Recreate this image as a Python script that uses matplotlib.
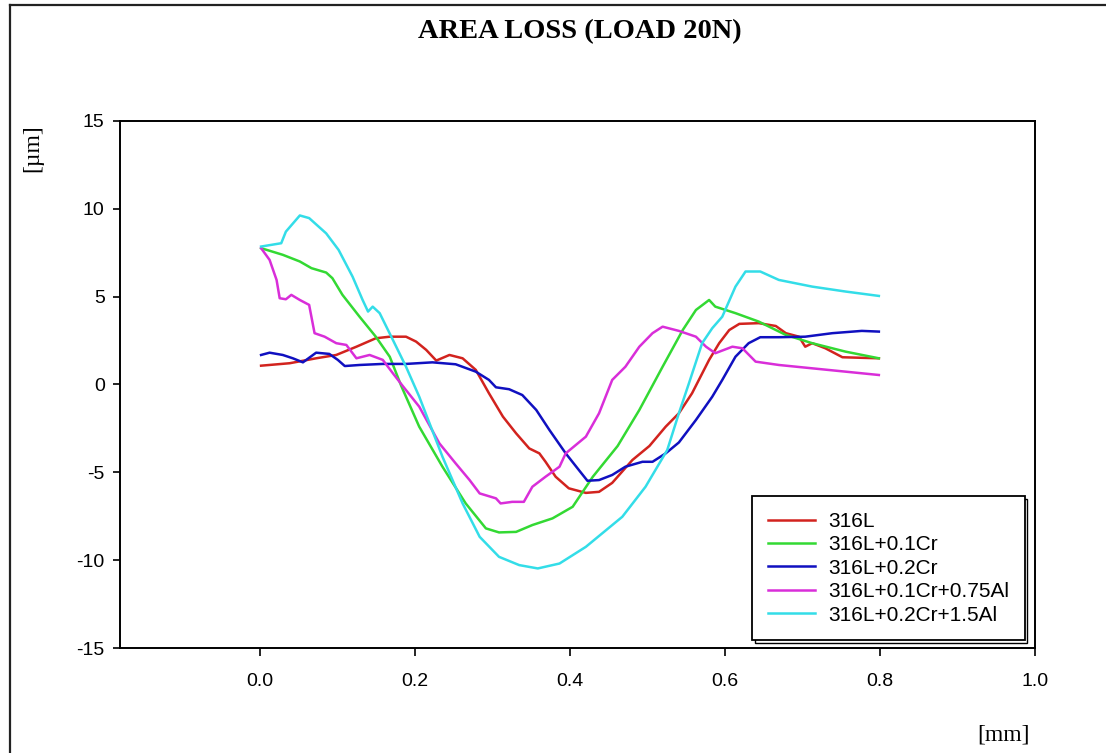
import matplotlib
matplotlib.use("Agg")
import matplotlib.pyplot as plt
from matplotlib.lines import Line2D

plt.rcParams['font.family'] = ['Liberation Sans', 'DejaVu Sans']
plt.rcParams['axes.unicode_minus'] = False

# ---- data (x in mm, y in um) ----
x_316l = [0.002, 0.039, 0.073, 0.099, 0.125, 0.150, 0.168, 0.189, 0.202, 0.215, 0.228,
          0.245, 0.262, 0.279, 0.296, 0.314, 0.331, 0.348, 0.361, 0.369, 0.382, 0.399,
          0.421, 0.438, 0.455, 0.481, 0.503, 0.524, 0.541, 0.558, 0.580, 0.593, 0.606,
          0.619, 0.644, 0.666, 0.679, 0.696, 0.704, 0.713, 0.730, 0.752, 0.799]
y_316l = [1.07, 1.21, 1.49, 1.68, 2.15, 2.63, 2.72, 2.72, 2.44, 1.97, 1.36,
          1.68, 1.49, 0.83, -0.50, -1.83, -2.78, -3.64, -3.92, -4.40, -5.25, -5.91,
          -6.17, -6.11, -5.60, -4.30, -3.50, -2.40, -1.64, -0.50, 1.40, 2.35, 3.10,
          3.45, 3.49, 3.33, 2.92, 2.72, 2.15, 2.35, 2.06, 1.55, 1.49]

x_01cr = [0.002, 0.030, 0.052, 0.067, 0.086, 0.094, 0.107, 0.129, 0.150, 0.168, 0.183,
          0.206, 0.236, 0.266, 0.292, 0.309, 0.331, 0.352, 0.378, 0.404, 0.430, 0.462,
          0.490, 0.520, 0.546, 0.563, 0.580, 0.588, 0.614, 0.644, 0.679, 0.713, 0.756, 0.799]
y_01cr = [7.76, 7.38, 7.00, 6.62, 6.37, 6.05, 5.10, 3.86, 2.72, 1.58, -0.10,
          -2.40, -4.68, -6.77, -8.19, -8.42, -8.39, -8.00, -7.62, -6.96, -5.25, -3.50,
          -1.45, 1.01, 3.10, 4.24, 4.81, 4.43, 4.06, 3.58, 2.82, 2.35, 1.87, 1.49]

x_02cr = [0.002, 0.013, 0.030, 0.043, 0.056, 0.073, 0.090, 0.101, 0.110, 0.129, 0.159,
          0.189, 0.223, 0.253, 0.279, 0.296, 0.305, 0.322, 0.339, 0.357, 0.374, 0.395,
          0.412, 0.423, 0.438, 0.455, 0.472, 0.494, 0.507, 0.524, 0.541, 0.563, 0.584,
          0.597, 0.614, 0.631, 0.646, 0.670, 0.704, 0.739, 0.777, 0.799]
y_02cr = [1.68, 1.81, 1.68, 1.49, 1.26, 1.81, 1.74, 1.40, 1.05, 1.11, 1.17,
          1.17, 1.26, 1.15, 0.73, 0.26, -0.16, -0.27, -0.60, -1.45, -2.59, -3.92,
          -4.87, -5.48, -5.44, -5.15, -4.68, -4.40, -4.40, -3.92, -3.30, -2.02, -0.70,
          0.26, 1.58, 2.35, 2.69, 2.69, 2.72, 2.92, 3.05, 3.01]

x_01cr075al = [0.002, 0.013, 0.022, 0.026, 0.034, 0.041, 0.052, 0.064, 0.071, 0.084, 0.099,
               0.112, 0.125, 0.142, 0.159, 0.172, 0.185, 0.206, 0.232, 0.253, 0.271, 0.284,
               0.305, 0.311, 0.326, 0.341, 0.352, 0.369, 0.387, 0.395, 0.421, 0.438, 0.455,
               0.472, 0.490, 0.507, 0.520, 0.541, 0.563, 0.576, 0.588, 0.610, 0.623, 0.640,
               0.670, 0.713, 0.756, 0.799]
y_01cr075al = [7.76, 7.09, 5.95, 4.91, 4.85, 5.10, 4.81, 4.53, 2.92, 2.72, 2.35,
               2.25, 1.49, 1.68, 1.40, 0.64, -0.10, -1.26, -3.35, -4.49, -5.44, -6.20,
               -6.48, -6.77, -6.68, -6.68, -5.82, -5.25, -4.68, -3.92, -2.97, -1.64, 0.26,
               1.01, 2.15, 2.92, 3.29, 3.05, 2.72, 2.15, 1.78, 2.15, 2.06, 1.30,
               1.11, 0.92, 0.73, 0.54]

x_02cr15al = [0.002, 0.028, 0.034, 0.052, 0.064, 0.086, 0.102, 0.120, 0.133, 0.140, 0.146,
              0.155, 0.172, 0.189, 0.206, 0.236, 0.262, 0.284, 0.309, 0.335, 0.359, 0.387,
              0.421, 0.468, 0.498, 0.526, 0.541, 0.554, 0.571, 0.584, 0.597, 0.614, 0.627,
              0.646, 0.670, 0.713, 0.756, 0.799]
y_02cr15al = [7.85, 8.04, 8.70, 9.62, 9.47, 8.60, 7.66, 6.14, 4.81, 4.15, 4.43,
              4.06, 2.54, 1.01, -0.69, -4.11, -6.77, -8.67, -9.81, -10.28, -10.47, -10.19,
              -9.24, -7.53, -5.82, -3.73, -1.64, 0.07, 2.35, 3.20, 3.86, 5.57, 6.43,
              6.43, 5.95, 5.57, 5.29, 5.04]

labels = ['316L', '316L+0.1Cr', '316L+0.2Cr', '316L+0.1Cr+0.75Al', '316L+0.2Cr+1.5Al']
colors = ['#d2231e', '#33d933', '#1010c0', '#d92ed9', '#33dde8']
xticks = [0.0, 0.2, 0.4, 0.6, 0.8, 1.0]
yticks = [-15, -10, -5, 0, 5, 10, 15]

series = [(x_316l, y_316l), (x_01cr, y_01cr), (x_02cr, y_02cr),
          (x_01cr075al, y_01cr075al), (x_02cr15al, y_02cr15al)]

fig = plt.figure(figsize=(11.06, 7.53), dpi=100)
ax = fig.add_axes([0.1085, 0.1394, 0.827, 0.7000])

for (xs, ys), lab, col in zip(series, labels, colors):
    ax.plot(xs, ys, color=col, lw=1.8, label=lab)

ax.set_xlim(-0.18, 1.0)
ax.set_ylim(-15, 15)
ax.set_xticks(xticks)
ax.set_xticklabels([f'{t:.1f}' for t in xticks])
ax.set_yticks(yticks)
for s in ax.spines.values():
    s.set_linewidth(1.4)
ax.tick_params(axis='x', direction='out', length=6, width=1.2, pad=12, labelsize=14)
ax.tick_params(axis='y', direction='out', length=5, width=1.2, pad=6, labelsize=14)

leg = ax.legend(loc='lower right', bbox_to_anchor=(0.989, 0.015), fontsize=15,
                frameon=True, fancybox=False, edgecolor='black', framealpha=1,
                labelspacing=0.21, handlelength=2.3, handletextpad=0.6,
                borderpad=0.75, borderaxespad=0,
                shadow={'facecolor': 'white', 'edgecolor': 'black', 'alpha': 1, 'linewidth': 1.0})
leg.get_frame().set_linewidth(1.3)

# title and axis labels (placed like the original)
fig.text(0.524, 0.958, 'AREA LOSS (LOAD 20N)', ha='center', va='center',
         fontsize=20.5, fontweight='bold', family='Liberation Serif')
fig.text(0.030, 0.803, '[\u00b5m]', ha='center', va='center', rotation=90,
         fontsize=17, family='Liberation Serif')
fig.text(0.907, 0.024, '[mm]', ha='center', va='center',
         fontsize=17, family='Liberation Serif')

# outer frame lines (left and top)
fig.add_artist(Line2D([0.009, 0.009], [0.0, 0.993], color='#222222', lw=1.6))
fig.add_artist(Line2D([0.009, 1.0], [0.993, 0.993], color='#222222', lw=1.6))

fig.savefig('out.png', dpi=100)
